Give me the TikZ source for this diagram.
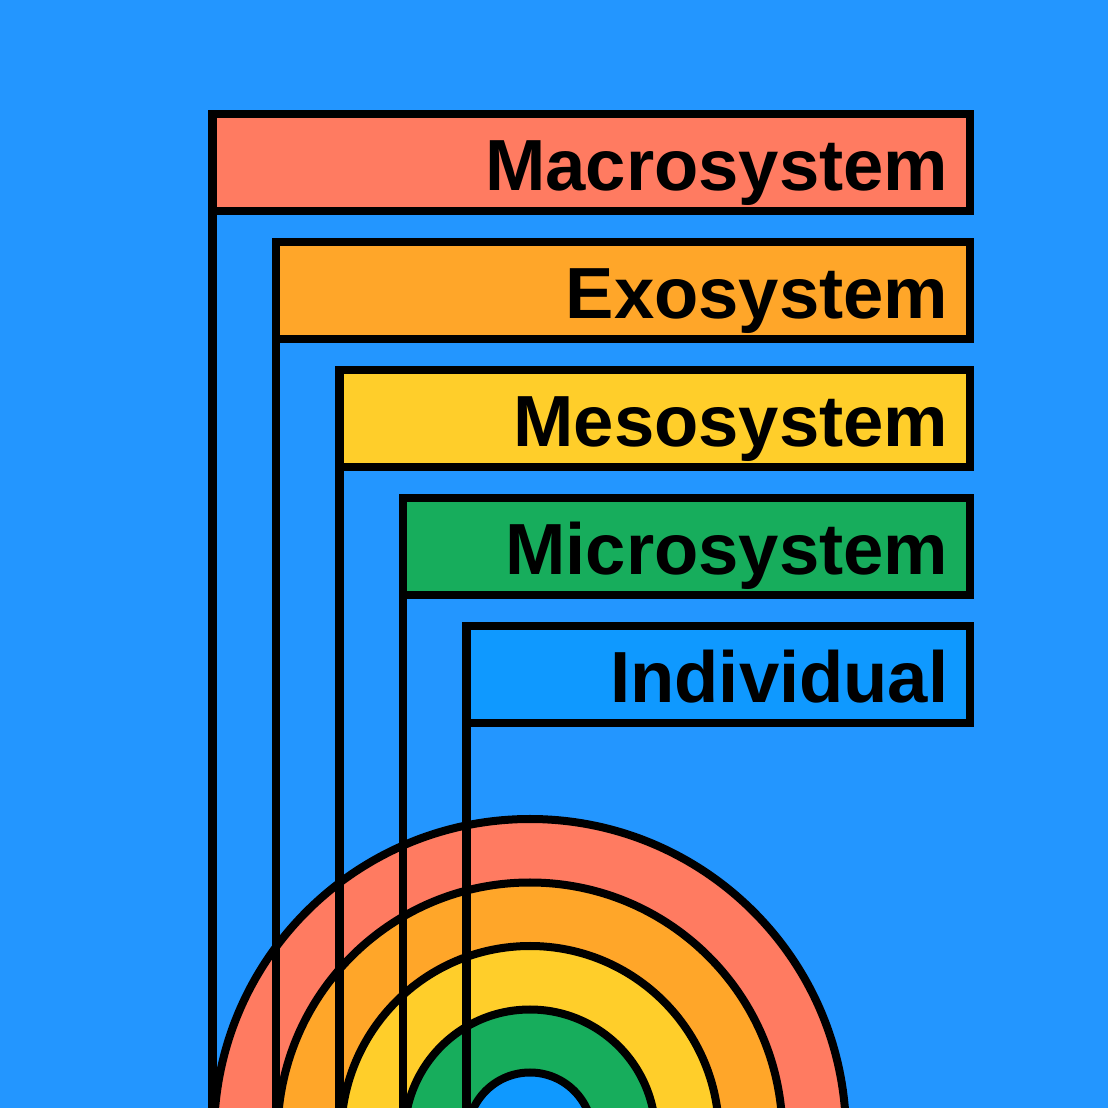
\documentclass[tikz,border=0pt]{standalone}
\usepackage{fontspec}
\setmainfont{Liberation Sans}
\usetikzlibrary{calc}
\definecolor{bgblue}{HTML}{2396FF}
\definecolor{macro}{HTML}{FF7B61}
\definecolor{exo}{HTML}{FFA629}
\definecolor{meso}{HTML}{FFCE2A}
\definecolor{micro}{HTML}{17AD5C}
\definecolor{indiv}{HTML}{0F99FF}
\tikzset{ring/.style={draw=black,line width=.08cm},
  lbl/.style={inner sep=0pt,anchor=base east,font=\fontsize{20.6}{24}\selectfont\bfseries}}

\begin{document}
\begin{tikzpicture}[x=.01cm,y=.01cm]
\fill[bgblue] (0,0) rectangle (1108,1108);
\clip (0,0) rectangle (1108,1108);
\coordinate (C) at (530,-27);
% nested half rings
\filldraw[ring,fill=macro] (C) circle (316);
\filldraw[ring,fill=exo] (C) circle (252.5);
\filldraw[ring,fill=meso] (C) circle (189);
\filldraw[ring,fill=micro] (C) circle (125.5);
\filldraw[ring,fill=indiv] (C) circle (62.5);
% stems down from the boxes
\draw[ring] (212.5,897) -- (212.5,-20);
\draw[ring] (276,769) -- (276,-20);
\draw[ring] (339.5,641) -- (339.5,-20);
\draw[ring] (403,513) -- (403,-20);
\draw[ring] (466.5,385) -- (466.5,-20);
% label boxes
\filldraw[ring,fill=macro] (212.5,994) rectangle (969.5,897);
\node[lbl] (macroT) at (949,917) {Macrosystem};
\filldraw[ring,fill=exo] (276,866) rectangle (969.5,769);
\node[lbl] (exoT) at (949,789) {Exosystem};
\filldraw[ring,fill=meso] (339.5,738) rectangle (969.5,641);
\node[lbl] (mesoT) at (949,661) {Mesosystem};
\filldraw[ring,fill=micro] (403,610) rectangle (969.5,513);
\node[lbl] (microT) at (949,533) {Microsystem};
\filldraw[ring,fill=indiv] (466.5,482) rectangle (969.5,385);
\node[lbl] (indivT) at (949,405) {Individual};
\end{tikzpicture}
\end{document}
